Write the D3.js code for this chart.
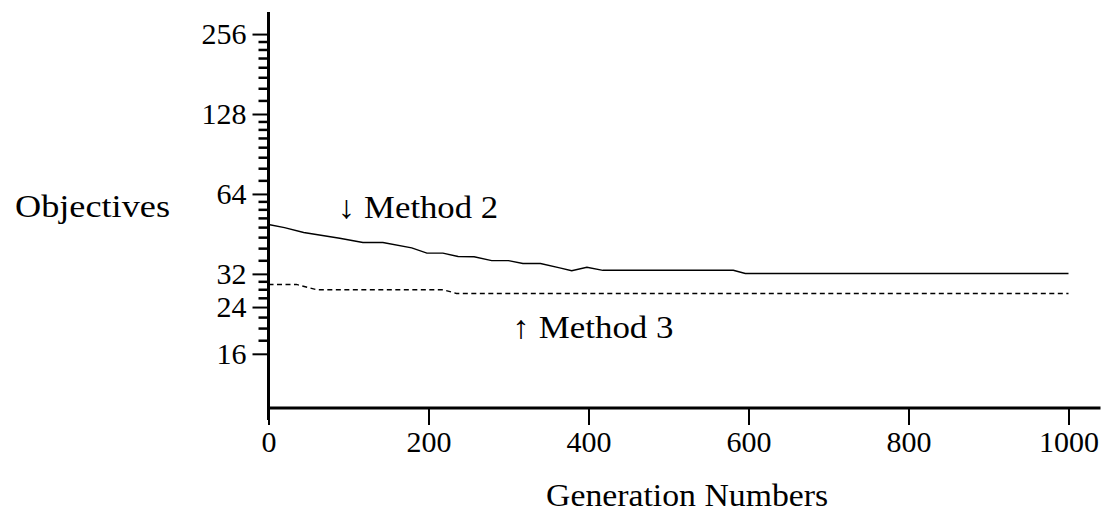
<!DOCTYPE html>
<html>
<head>
<meta charset="utf-8">
<script src="https://cdn.jsdelivr.net/npm/d3@7"></script>
<style>
  body { margin: 0; background: #fff; }
</style>
</head>
<body>
<div id="chart"></div>
<script>
// generation numbers and objective values
var gen2 = [0, 20, 44, 89, 118, 143, 179, 198, 218, 237, 257, 279, 300, 318, 340, 364, 379, 398, 418, 581, 596, 1000];
var method2 = [49.1, 47.8, 45.8, 43.6, 42.0, 42.0, 40.1, 38.3, 38.3, 37.2, 37.1, 35.9, 35.9, 35.0, 35.0, 33.7, 32.9, 33.9, 33.0, 33.0, 32.1, 32.1];

var gen3 = [0, 35, 60, 218, 235, 1000];
var method3 = [29.2, 29.2, 27.9, 27.9, 27.0, 27.0];

var xTicks = [0, 200, 400, 600, 800, 1000];
var yMajor = [16, 24, 32, 64, 128, 256];
var yMinor = [18, 20, 22, 26, 28, 30, 36, 40, 44, 48, 52, 56, 60,
              72, 80, 88, 96, 104, 112, 120, 144, 160, 176, 192, 208, 224, 240];

var width = 1103, height = 516;
var font = "'Liberation Serif', 'DejaVu Serif', serif";

var svg = d3.select("#chart").append("svg")
    .attr("width", width)
    .attr("height", height)
    .style("font-family", font);

var x = d3.scaleLinear().domain([0, 1040]).range([268.5, 1100.5]);
var y = d3.scaleLog().base(2).domain([10, 310]).range([408, 12]);

// x axis
var gX = svg.append("g")
    .attr("transform", "translate(0," + y(10) + ")")
    .call(d3.axisBottom(x).tickValues(xTicks).tickSize(17).tickPadding(6).tickFormat(d3.format("d")))
    .attr("font-family", null);
gX.select(".domain").attr("stroke-width", 3).attr("d", "M" + x(0) + ",0H" + x(1040));
gX.selectAll(".tick line").attr("stroke-width", 2);
gX.selectAll(".tick text").style("font-size", "30px").style("font-family", font);

// y axis: major ticks with labels
var gY = svg.append("g")
    .attr("transform", "translate(" + x(0) + ",0)")
    .call(d3.axisLeft(y).tickValues(yMajor).tickSize(16).tickPadding(6).tickFormat(d3.format("d")))
    .attr("font-family", null);
gY.select(".domain").attr("stroke-width", 3).attr("d", "M0," + y(310) + "V" + (y(10) + 12));
gY.selectAll(".tick line").attr("stroke-width", 2);
gY.selectAll(".tick text").style("font-size", "30px").style("font-family", font);

// y axis: minor ticks
svg.append("g")
    .attr("transform", "translate(" + x(0) + ",0)")
    .call(d3.axisLeft(y).tickValues(yMinor).tickSize(10).tickFormat(""))
  .call(function(g){ g.select(".domain").remove(); })
  .selectAll(".tick line").attr("stroke-width", 2.5);

var line = d3.line()
    .x(function(d){ return x(d[0]); })
    .y(function(d){ return y(d[1]); });

svg.append("path")
    .datum(d3.zip(gen2, method2))
    .attr("d", line)
    .attr("fill", "none")
    .attr("stroke", "#000")
    .attr("stroke-width", 1.4);

svg.append("path")
    .datum(d3.zip(gen3, method3))
    .attr("d", line)
    .attr("fill", "none")
    .attr("stroke", "#000")
    .attr("stroke-width", 1.4)
    .attr("stroke-dasharray", "5,3.5");

// labels (CM-like width via textLength)
function label(tx, ty, s, len, anchor) {
  svg.append("text")
      .attr("x", tx)
      .attr("y", ty)
      .attr("text-anchor", anchor || "start")
      .attr("textLength", len)
      .attr("lengthAdjust", "spacingAndGlyphs")
      .style("font-size", "32px")
      .style("font-family", font)
      .text(s);
}
label(x(87), 218, "\u2193 Method 2", 160);
label(x(305), 338, "\u2191 Method 3", 161);
label(15, 217, "Objectives", 155);
label(x(347), 506, "Generation Numbers", 282);
</script>
</body>
</html>
